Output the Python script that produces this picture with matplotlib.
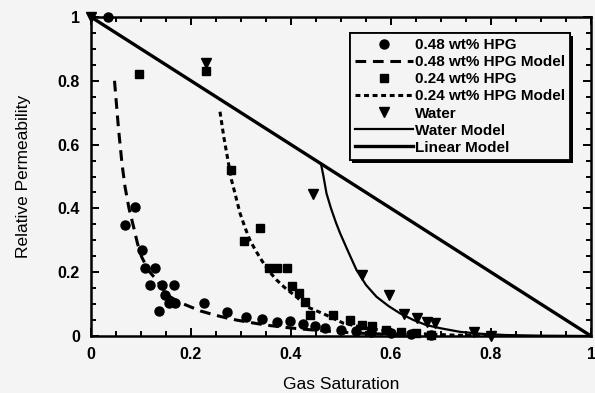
import matplotlib
matplotlib.use("Agg")
import matplotlib.pyplot as plt
from matplotlib.ticker import MultipleLocator, FuncFormatter
import matplotlib.patheffects as pe

plt.rcParams['font.family'] = ['Liberation Sans', 'DejaVu Sans']

# 0.48 wt% HPG measurements
hpg48_x = [0.034, 0.068, 0.088, 0.101, 0.108, 0.128, 0.118, 0.141, 0.165, 0.135, 0.148,
           0.155, 0.168, 0.225, 0.271, 0.310, 0.341, 0.371, 0.398, 0.423, 0.448, 0.468,
           0.50, 0.53, 0.56, 0.60, 0.64, 0.68]
hpg48_y = [1.00, 0.348, 0.405, 0.27, 0.212, 0.212, 0.16, 0.16, 0.16, 0.078, 0.128,
           0.102, 0.102, 0.102, 0.074, 0.061, 0.052, 0.045, 0.048, 0.038, 0.030, 0.026,
           0.020, 0.016, 0.012, 0.008, 0.006, 0.004]

# 0.24 wt% HPG measurements
hpg24_x = [0.096, 0.230, 0.280, 0.305, 0.338, 0.355, 0.371, 0.391, 0.401, 0.415, 0.428,
           0.438, 0.484, 0.518, 0.541, 0.561, 0.59, 0.62, 0.65, 0.68]
hpg24_y = [0.82, 0.83, 0.52, 0.298, 0.34, 0.214, 0.214, 0.212, 0.157, 0.134, 0.108,
           0.066, 0.066, 0.050, 0.035, 0.030, 0.020, 0.012, 0.008, 0.004]

# Water measurements
water_x = [0.0, 0.230, 0.443, 0.541, 0.595, 0.625, 0.651, 0.671, 0.688, 0.765, 0.80]
water_y = [1.0, 0.855, 0.444, 0.19, 0.13, 0.07, 0.055, 0.045, 0.042, 0.013, 0.0]

# Model curves
m48_x = [0.047, 0.055, 0.062, 0.068, 0.076, 0.085, 0.093, 0.101, 0.115, 0.131, 0.145,
         0.158, 0.178, 0.198, 0.22, 0.247, 0.27, 0.291, 0.32, 0.351, 0.40, 0.45, 0.50,
         0.55, 0.60, 0.65, 0.70]
m48_y = [0.80, 0.65, 0.54, 0.468, 0.40, 0.343, 0.29, 0.249, 0.205, 0.176, 0.146,
         0.123, 0.105, 0.092, 0.078, 0.066, 0.057, 0.050, 0.042, 0.034, 0.025, 0.018,
         0.012, 0.008, 0.005, 0.002, 0.0]

m24_x = [0.258, 0.266, 0.274, 0.281, 0.288, 0.298, 0.308, 0.318, 0.330, 0.341, 0.355,
         0.371, 0.390, 0.411, 0.431, 0.445, 0.47, 0.505, 0.55, 0.605, 0.66, 0.72, 0.80]
m24_y = [0.703, 0.62, 0.55, 0.489, 0.447, 0.385, 0.34, 0.30, 0.266, 0.238, 0.205,
         0.176, 0.148, 0.123, 0.092, 0.083, 0.066, 0.040, 0.025, 0.013, 0.007, 0.003, 0.0]

water_model_x = [0.460, 0.465, 0.471, 0.480, 0.490, 0.498, 0.510, 0.520, 0.531, 0.550,
                 0.571, 0.595, 0.618, 0.645, 0.671, 0.70, 0.738, 0.78, 0.83, 0.90, 1.0]
water_model_y = [0.540, 0.50, 0.447, 0.40, 0.355, 0.323, 0.28, 0.245, 0.207, 0.16,
                 0.123, 0.094, 0.071, 0.050, 0.034, 0.024, 0.013, 0.007, 0.003, 0.001, 0.0]

linear_x = [0.0, 1.0]
linear_y = [1.0, 0.0]

bg = '#f4f4f4'
fig = plt.figure(figsize=(5.95, 3.93), dpi=100, facecolor=bg)
ax = fig.add_axes([91/595, 1 - 336/393, 500/595, 319/393])
ax.set_facecolor(bg)

ax.plot(hpg48_x, hpg48_y, 'o', color='black', ms=6.5, clip_on=False, label='0.48 wt% HPG')
ax.plot(m48_x, m48_y, color='black', lw=2.2, dashes=(3.5, 2.2), label='0.48 wt% HPG Model')
ax.plot(hpg24_x, hpg24_y, 's', color='black', ms=6, clip_on=False, label='0.24 wt% HPG')
ax.plot(m24_x, m24_y, color='black', lw=2.2, dashes=(1.6, 1.2), label='0.24 wt% HPG Model')
ax.plot(water_x, water_y, 'v', color='black', ms=7, clip_on=False, label='Water')
ax.plot(water_model_x, water_model_y, color='black', lw=1.6, label='Water Model')
ax.plot(linear_x, linear_y, color='black', lw=2.4, label='Linear Model')

ax.set_xlim(0, 1)
ax.set_ylim(0, 1)
ax.xaxis.set_major_locator(MultipleLocator(0.2))
ax.xaxis.set_minor_locator(MultipleLocator(0.05))
ax.yaxis.set_major_locator(MultipleLocator(0.2))
ax.yaxis.set_minor_locator(MultipleLocator(0.05))
ax.xaxis.set_major_formatter(FuncFormatter(lambda v, p: f'{v:g}'))
ax.yaxis.set_major_formatter(FuncFormatter(lambda v, p: f'{v:g}'))
ax.tick_params(which='both', direction='in', top=True, right=True, width=1.4,
               labelsize=11.5, pad=8)
ax.tick_params(which='major', length=6)
ax.tick_params(which='minor', length=3.5)
for lab in ax.get_xticklabels() + ax.get_yticklabels():
    lab.set_fontweight('bold')
for s in ax.spines.values():
    s.set_linewidth(1.8)

ax.set_xlabel('Gas Saturation', fontsize=12.5, labelpad=11)
ax.set_ylabel('Relative Permeability', fontsize=12.5, labelpad=19)

leg = ax.legend(loc='upper right', bbox_to_anchor=(0.958, 0.95), borderaxespad=0,
                numpoints=1, handlelength=3.8, handletextpad=0.1, labelspacing=0.2,
                borderpad=0.35, fancybox=False, shadow=False, frameon=True,
                prop={'size': 11, 'weight': 'bold'})
frame = leg.get_frame()
frame.set_edgecolor('black')
frame.set_linewidth(1.3)
frame.set_facecolor(bg)
frame.set_alpha(1)
frame.set_path_effects([pe.withSimplePatchShadow(offset=(2, -2), shadow_rgbFace='black', alpha=1),
                        pe.Normal()])

fig.savefig('out.png', dpi=100, facecolor=bg)
